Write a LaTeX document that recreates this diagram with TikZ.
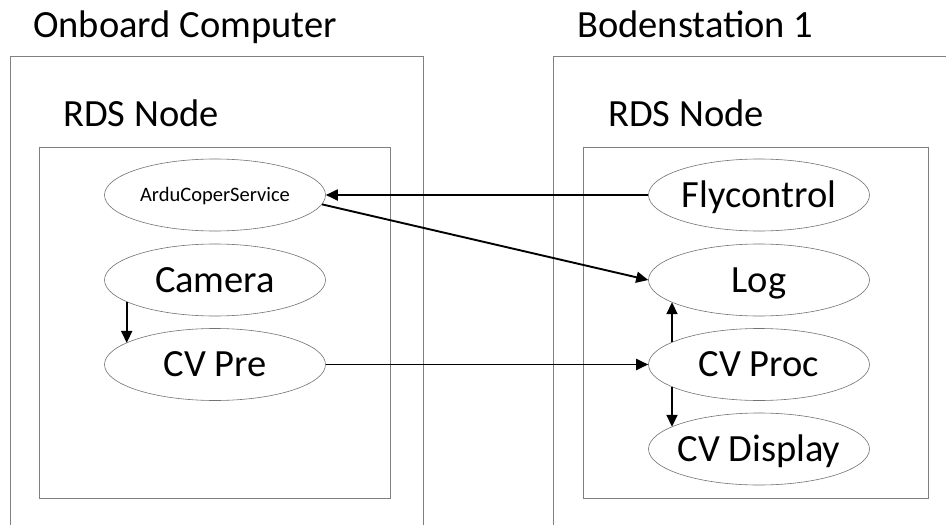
\documentclass[tikz,border=0pt]{standalone}
\usepackage{fontspec}
\setmainfont{Carlito}
\usetikzlibrary{shapes.geometric,arrows.meta}
\begin{document}
\begin{tikzpicture}[x=1pt,y=-1pt,
  frame/.style={draw=black!50,line width=0.8pt},
  proc/.style={ellipse,draw=black!55,line width=0.6pt,minimum width=221pt,minimum height=72pt,
    inner xsep=-40pt,inner ysep=0pt,text height=24pt,text depth=0pt,font=\fontsize{38.5}{40}\selectfont},
  small/.style={font=\fontsize{20.5}{22}\selectfont,text height=12.5pt},
  title/.style={anchor=base west,inner sep=0pt,font=\fontsize{38.5}{40}\selectfont},
  arr/.style={line width=1.9pt,-{Triangle[length=12pt,width=11pt]}}]
\clip (0,0) rectangle (946,525);
\fill[white] (0,0) rectangle (946,525);

% machines (open at the bottom / right)
\draw[frame] (10,540) -- (10,56) -- (423,56) -- (423,540);
\draw[frame] (553,540) -- (553,56) -- (960,56);
% RDS node frames
\draw[frame] (39.5,147) rectangle (390,498);
\draw[frame] (583.5,147) rectangle (928.5,498);

% headings
\node[title] (tOnb) at (33,37) {Onboard Computer};
\node[title] (tBod) at (577,37) {Bodenstation 1};
\node[title] (tRdsL) at (63,126) {RDS Node};
\node[title] (tRdsR) at (608,126) {RDS Node};

% onboard processes
\node[proc,small] (ardu) at (215,195) {ArduCoperService};
\node[proc] (cam) at (215,280) {Camera};
\node[proc] (cvpre) at (215,364.5) {CV Pre};

% ground station processes
\node[proc] (fly) at (759,195) {Flycontrol};
\node[proc] (log) at (759,280) {Log};
\node[proc] (cvproc) at (759,364.5) {CV Proc};
\node[proc] (disp) at (759,449) {CV Display};

% data flow
\draw[arr] (fly.west) -- (ardu.east);
\draw[arr] (ardu.355) -- (log.west);
\draw[arr] ([shift={(-88.3,21.6)}]cam.center) -- ([shift={(-88.3,-21.6)}]cvpre.center);
\draw[arr] (cvpre.east) -- (cvproc.west);
\draw[arr] ([shift={(-87,-22.2)}]cvproc.center) -- ([shift={(-87,22.2)}]log.center);
\draw[arr] ([shift={(-87,22.2)}]cvproc.center) -- ([shift={(-87,-22.2)}]disp.center);
\end{tikzpicture}
\end{document}
